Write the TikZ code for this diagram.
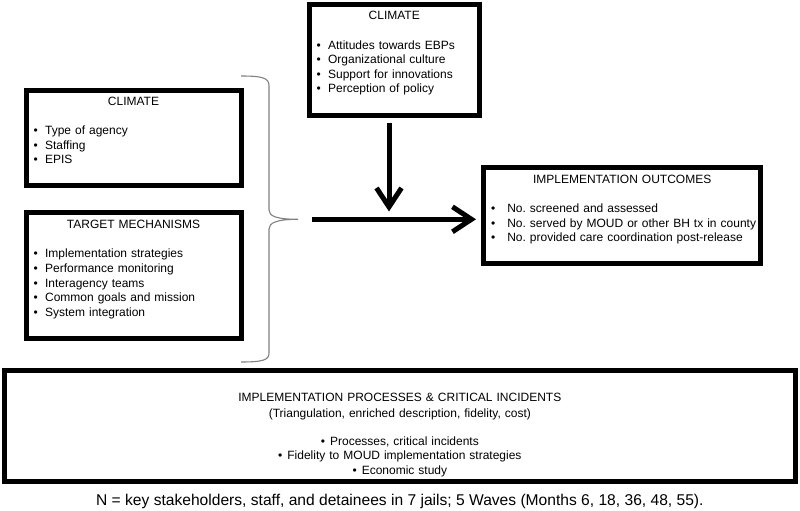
\documentclass[tikz,border=0pt]{standalone}
\usepackage{fontspec}
\setmainfont{Liberation Sans}
\usepackage{tikz}
\usetikzlibrary{arrows.meta,positioning}
\setlength{\parindent}{0pt}
\frenchspacing

\newcommand{\listline}[2][11.4pt]{\noindent\hspace*{5.2pt}\makebox[#1][l]{\textbullet}#2\par}

\begin{document}
\begin{tikzpicture}[
	x=1pt, y=-1pt,
	every node/.style={inner sep=0pt, outer sep=0pt},
	box/.style={draw, line width=5pt, rectangle},
	boxtext/.style={align=left, font=\fontsize{12pt}{14.6pt}\selectfont},
	flow/.style={draw, line width=5pt, ->},
	brace/.style={draw=black!50, line width=1.1pt},
	>={Straight Barb[length=19pt,width=25pt]}
	]
	\useasboundingbox (0,0) rectangle (800,511);
	
	% boxes
	\node[box, minimum width=215pt, minimum height=95.7pt] (climL) at (133.5,137.85) {};
	\node[box, minimum width=215pt, minimum height=125.8pt] (mech) at (133.5,275.4) {};
	\node[box, minimum width=170.5pt, minimum height=110pt] (climT) at (394.25,60) {};
	\node[box, minimum width=277.3pt, minimum height=95.8pt] (outc) at (622.15,215.4) {};
	\node[box, minimum width=791.3pt, minimum height=111.2pt] (proc) at (399.85,425.6) {};
	
	% box texts
	\node[boxtext, text width=210pt, below=15.3pt of climL.north, anchor=base] (climLtxt) {%
		{\centering CLIMATE\par}\vspace{14.6pt}%
		\listline{Type of agency}\listline{Staffing}\listline{EPIS}};
	\node[boxtext, text width=210pt, below=16.1pt of mech.north, anchor=base] (mechtxt) {%
		{\centering TARGET MECHANISMS\par}\vspace{14.6pt}%
		\listline{Implementation strategies}\listline{Performance monitoring}%
		\listline{Interagency teams}\listline{Common goals and mission}%
		\listline{System integration}};
	\node[boxtext, text width=165.5pt, below=15pt of climT.north, anchor=base] (climTtxt) {%
		{\centering CLIMATE\par}\vspace{14.6pt}%
		\listline{Attitudes towards EBPs}\listline{Organizational culture}%
		\listline{Support for innovations}\listline{Perception of policy}};
	\node[boxtext, text width=272.3pt, below=15.8pt of outc.north, anchor=base] (outctxt) {%
		{\centering IMPLEMENTATION OUTCOMES\par}\vspace{14.6pt}%
		\listline[16.1pt]{No. screened and assessed}%
		\listline[16.1pt]{No. served by MOUD or other BH tx in county}%
		\listline[16.1pt]{No. provided care coordination post-release}};
	\node[boxtext, text width=780pt, align=center, below=31pt of proc.north, anchor=base] (proctxt) {%
		IMPLEMENTATION PROCESSES \& CRITICAL INCIDENTS\\[1.4pt]
		(Triangulation, enriched description, fidelity, cost)\\[13.4pt]
		\textbullet\hspace{5pt}Processes, critical incidents\\
		\textbullet\hspace{5pt}Fidelity to MOUD implementation strategies\\
		\textbullet\hspace{5pt}Economic study};
	
	\node[font=\fontsize{15.6pt}{18pt}\selectfont, below=24.5pt of proc.south, anchor=base] (note)
		{N = key stakeholders, staff, and detainees in 7 jails; 5 Waves (Months 6, 18, 36, 48, 55).};
	
	% brace and arrows
	\draw[brace] (241,76) .. controls (263,76) and (269,78) .. (269,86) -- (269,210)
		.. controls (269,216) and (276,219.3) .. (298,219.3) coordinate (braceTip)
		.. controls (276,219.3) and (269,223) .. (269,229) -- (269,353)
		.. controls (269,360) and (263,362) .. (241,362);
	\coordinate (vEnd) at (389,211.5);
	\draw[flow, shorten <=8pt] (climT.south -| vEnd) -- (vEnd);
	\draw[flow, shorten <=14pt, shorten >=7.5pt] (braceTip) -- (outc.west |- braceTip);
\end{tikzpicture}
\end{document}
